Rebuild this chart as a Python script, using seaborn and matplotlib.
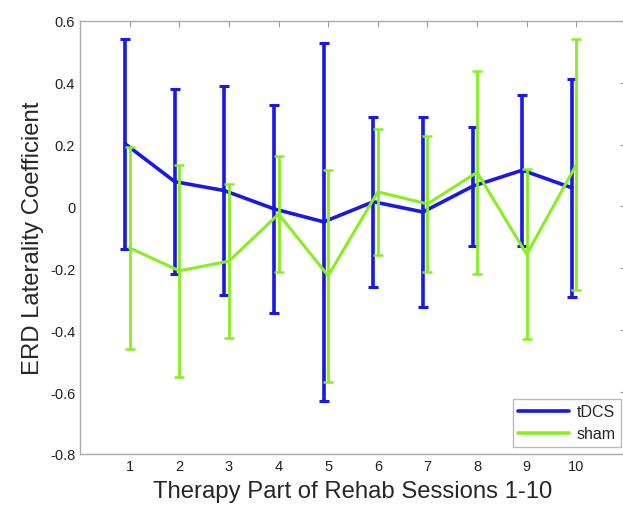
import numpy as np
import pandas as pd
import seaborn as sns
import matplotlib
matplotlib.use('Agg')
import matplotlib.pyplot as plt

# valores
sessions = [1, 2, 3, 4, 5, 6, 7, 8, 9, 10]
tdcs_mean = [0.202, 0.080, 0.051, -0.008, -0.050, 0.015, -0.018, 0.065, 0.117, 0.060]
tdcs_err = [0.340, 0.298, 0.337, 0.335, 0.578, 0.275, 0.308, 0.193, 0.244, 0.353]
sham_mean = [-0.134, -0.208, -0.177, -0.025, -0.224, 0.047, 0.008, 0.110, -0.155, 0.135]
sham_err = [0.326, 0.343, 0.249, 0.188, 0.343, 0.204, 0.220, 0.328, 0.275, 0.405]

blue = '#1818E8'
green = '#88EE22'

sns.set_style('white')
plt.rcParams['font.family'] = ['Liberation Sans', 'DejaVu Sans']

df = pd.DataFrame({
    'session': sessions * 2,
    'value': tdcs_mean + sham_mean,
    'group': ['tDCS'] * 10 + ['sham'] * 10,
})
# desplazamiento de tDCS a la izquierda, como en la figura original
df['x'] = df['session'] - np.where(df['group'] == 'tDCS', 0.09, 0.0)

fig = plt.figure(figsize=(6.23, 5.06), dpi=100)
ax = fig.add_axes([80 / 623, 51 / 506, 546 / 623, 433.3 / 506])

sub_t = df[df['group'] == 'tDCS']
sub_s = df[df['group'] == 'sham']

ax.errorbar(sub_t['x'], sub_t['value'], yerr=tdcs_err, fmt='none',
            ecolor=blue, elinewidth=2.6, capsize=3.5, capthick=2.2, zorder=2)
sns.lineplot(data=sub_t, x='x', y='value', color=blue, lw=2.6, label='tDCS', ax=ax, zorder=3)
ax.errorbar(sub_s['x'], sub_s['value'], yerr=sham_err, fmt='none',
            ecolor=green, elinewidth=2.0, capsize=3.5, capthick=1.8, zorder=4)
sns.lineplot(data=sub_s, x='x', y='value', color=green, lw=2.2, label='sham', ax=ax, zorder=5)

ax.set_xlim(0, 11)
ax.set_ylim(-0.8, 0.6)
ax.set_xticks(sessions)
ax.set_yticks([-0.8, -0.6, -0.4, -0.2, 0, 0.2, 0.4, 0.6])
ax.set_yticklabels(['-0.8', '-0.6', '-0.4', '-0.2', '0', '0.2', '0.4', '0.6'])
ax.tick_params(direction='in', length=4, width=0.8, color='#999999',
               labelcolor='#222222', labelsize=10.5, top=True, right=True)
for s in ax.spines.values():
    s.set_color('#aaaaaa')
    s.set_linewidth(1.0)

ax.set_xlabel('Therapy Part of Rehab Sessions 1-10', fontsize=17.2, labelpad=5)
ax.set_ylabel('ERD Laterality Coefficient', fontsize=17.2, labelpad=4)

leg = ax.legend(loc='lower right', bbox_to_anchor=(621 / 623, 58 / 506),
                bbox_transform=fig.transFigure, fontsize=11.5, frameon=True,
                fancybox=False, edgecolor='#aaaaaa', borderaxespad=0,
                handlelength=3.2, handletextpad=0.45, borderpad=0.35,
                labelspacing=0.45)
for line in leg.get_lines():
    line.set_linewidth(2.6)

fig.savefig('out.png', dpi=100)
